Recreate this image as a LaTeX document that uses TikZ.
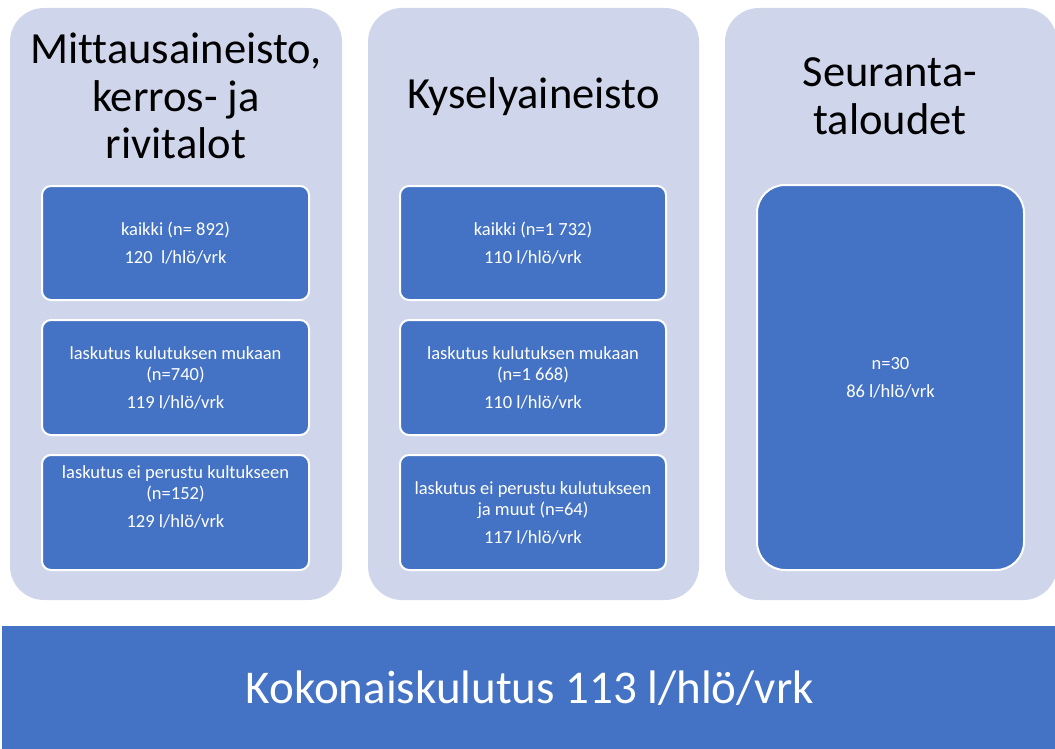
\documentclass[tikz,border=0pt]{standalone}
\usepackage{fontspec}
\setmainfont[Ligatures=NoCommon]{Carlito}
\definecolor{colfill}{HTML}{CFD5EA}
\definecolor{boxblue}{HTML}{4472C4}
\tikzset{
  column/.style={fill=colfill, rounded corners=34pt, inner sep=0pt, outer sep=0pt},
  innerbox/.style={fill=boxblue, draw=white, line width=2pt, rounded corners=9pt, inner sep=0pt},
  title/.style={font=\fontsize{44.5}{47.5}\selectfont, align=center, text=black, inner sep=0pt},
  boxtext/.style={font=\fontsize{18.5}{21}\selectfont, align=center, text=white, inner sep=0pt},
  totalbar/.style={fill=boxblue, inner sep=0pt, outer sep=0pt},
}
\begin{document}
\begin{tikzpicture}[x=1pt,y=-1pt]
\useasboundingbox (0,0) rectangle (1055,749);
% columns
\node[column, minimum width=332pt, minimum height=592pt] (c1) at (176,304) {};
\node[column, minimum width=331pt, minimum height=592pt] (c2) at (533.5,304) {};
\node[column, minimum width=332pt, minimum height=592pt] (c3) at (891,304) {};
% titles
\node[title] (t1) at (176,96) {Mittausaineisto,\\kerros- ja\\rivitalot};
\node[title] (t2) at (533.5,97) {Kyselyaineisto};
\node[title] (t3) at (890,96) {Seuranta-\\taloudet};
% column 1 boxes
\node[innerbox, minimum width=267pt, minimum height=114pt] (a1) at (175.5,243) {};
\node[innerbox, minimum width=267pt, minimum height=115pt] (a2) at (175.5,377.5) {};
\node[innerbox, minimum width=267pt, minimum height=115pt] (a3) at (175.5,512.5) {};
\node[boxtext] (a1t) at (175.5,243) {kaikki (n= 892)\\[7pt]120\ \ l/hlö/vrk};
\node[boxtext] (a2t) at (175.5,378) {laskutus kulutuksen mukaan\\(n=740)\\[7pt]119 l/hlö/vrk};
\node[boxtext] (a3t) at (175.5,497) {laskutus ei perustu kultukseen\\(n=152)\\[7pt]129 l/hlö/vrk};
% column 2 boxes
\node[innerbox, minimum width=266pt, minimum height=114pt] (b1) at (533,243) {};
\node[innerbox, minimum width=266pt, minimum height=115pt] (b2) at (533,377.5) {};
\node[innerbox, minimum width=266pt, minimum height=115pt] (b3) at (533,512.5) {};
\node[boxtext] (b1t) at (533,243) {kaikki (n=1 732)\\[7pt]110 l/hlö/vrk};
\node[boxtext] (b2t) at (533,378) {laskutus kulutuksen mukaan\\(n=1 668)\\[7pt]110 l/hlö/vrk};
\node[boxtext] (b3t) at (533,513) {laskutus ei perustu kulutukseen\\ja muut (n=64)\\[7pt]117 l/hlö/vrk};
% column 3 box
\node[innerbox, rounded corners=28pt, minimum width=267pt, minimum height=385pt] (s1) at (890.5,377.5) {};
\node[boxtext] (s1t) at (890.5,377.5) {n=30\\[7pt]86 l/hlö/vrk};
% total bar
\node[totalbar, minimum width=1053pt, minimum height=123pt] (tot) at (528.5,687.5) {};
\node[font=\fontsize{47}{56}\selectfont, text=white, inner sep=0pt] (tott) at (530,688) {Kokonaiskulutus 113 l/hlö/vrk};
\end{tikzpicture}
\end{document}
